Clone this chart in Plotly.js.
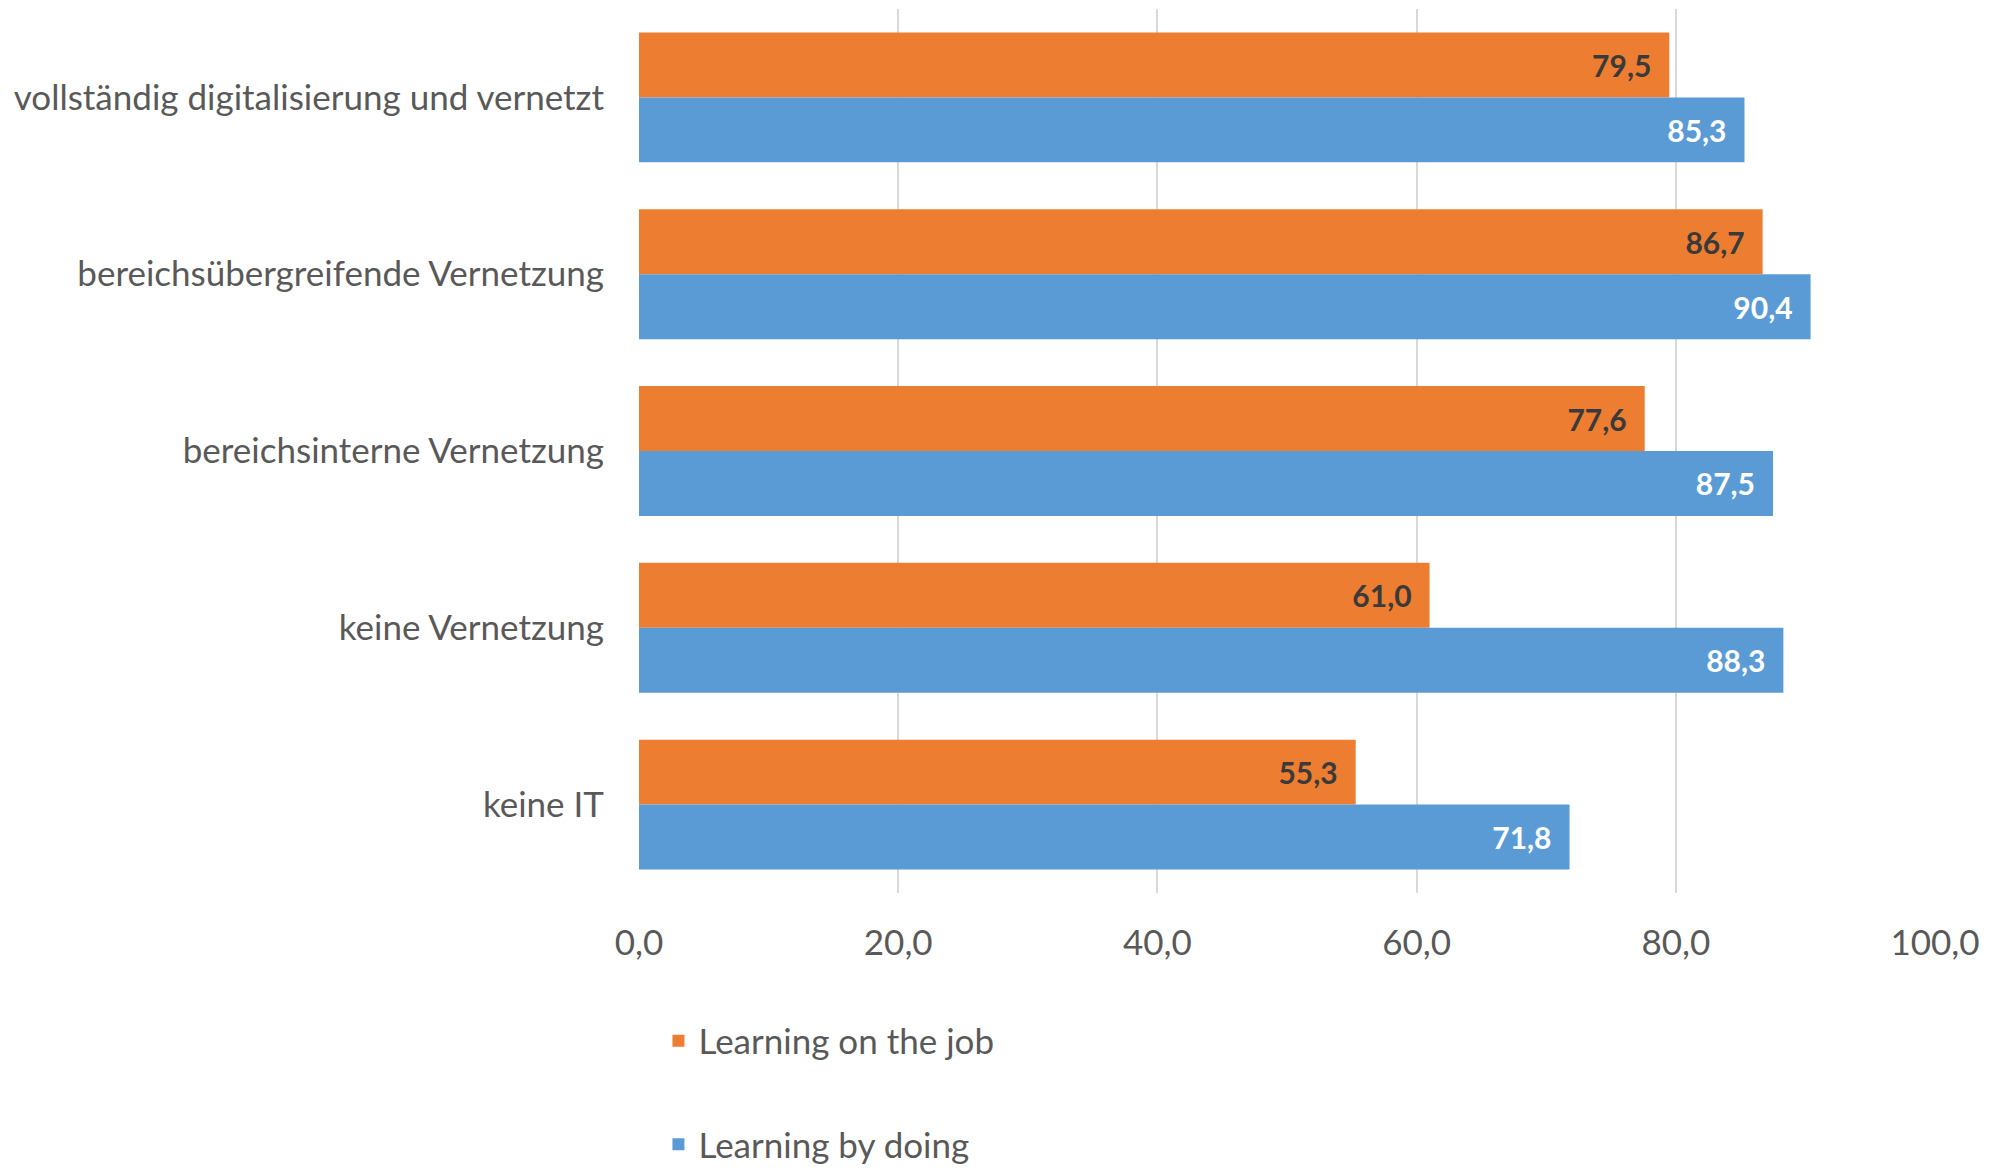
<!DOCTYPE html>
<html>
<head>
<meta charset="utf-8">
<script src="https://cdn.plot.ly/plotly-3.0.1.min.js"></script>
<style>html,body{margin:0;padding:0;background:#fff;}</style>
</head>
<body>
<div id="chart" style="width:2004px;height:1173px;"></div>
<script>
const categories = [
  "vollständig digitalisierung und vernetzt",
  "bereichsübergreifende Vernetzung",
  "bereichsinterne Vernetzung",
  "keine Vernetzung",
  "keine IT"
];
const onTheJob = [79.5, 86.7, 77.6, 61.0, 55.3];
const byDoing = [85.3, 90.4, 87.5, 88.3, 71.8];
const seriesNames = ["Learning on the job", "Learning by doing"];
const xTicks = [0, 20, 40, 60, 80, 100];

const FONT = "Lato, 'Open Sans', sans-serif";

const traces = [
  {
    type: "bar", orientation: "h", name: seriesNames[0], legendgroup: "a",
    y: categories, x: onTheJob,
    marker: {color: "#ED7D31"},
    texttemplate: "%{x:.1f}\u2002", textposition: "inside", insidetextanchor: "end",
    textfont: {family: FONT, size: 30, color: "#3A3A3A", weight: "bold"},
    hoverinfo: "x+y"
  },
  {
    type: "bar", orientation: "h", name: seriesNames[1], legendgroup: "b",
    y: categories, x: byDoing,
    marker: {color: "#5B9BD5"},
    texttemplate: "%{x:.1f}\u2002", textposition: "inside", insidetextanchor: "end",
    textfont: {family: FONT, size: 30, color: "#FFFFFF", weight: "bold"},
    hoverinfo: "x+y"
  }
];

const layout = {
  width: 2004, height: 1173,
  paper_bgcolor: "#fff", plot_bgcolor: "#fff",
  separators: ",.",
  margin: {l: 639, r: 69, t: 8.5, b: 279.5, pad: 0, autoexpand: false},
  barmode: "group", bargap: 0.265, bargroupgap: 0,
  font: {family: FONT, color: "#595959", size: 35},
  xaxis: {
    range: [0, 100], tickvals: xTicks, tickformat: ".1f",
    showgrid: true, gridcolor: "#D9D9D9", gridwidth: 2,
    zeroline: false, showline: false, ticks: "",
    ticklabelstandoff: 26,
    tickfont: {family: FONT, size: 35, color: "#595959"},
    fixedrange: true
  },
  yaxis: {
    autorange: "reversed", type: "category",
    showgrid: false, zeroline: false, showline: false, ticks: "",
    ticklabelstandoff: 34,
    tickfont: {family: FONT, size: 35, color: "#595959"},
    fixedrange: true
  },
  showlegend: true,
  legend: {
    orientation: "v", x: 0.015, xanchor: "left", y: -0.134, yanchor: "top",
    traceorder: "grouped", tracegroupgap: 55,
    font: {family: FONT, size: 35, color: "#595959"},
    bgcolor: "rgba(0,0,0,0)"
  }
};

Plotly.newPlot("chart", traces, layout, {displayModeBar: false, staticPlot: true});
</script>
</body>
</html>
